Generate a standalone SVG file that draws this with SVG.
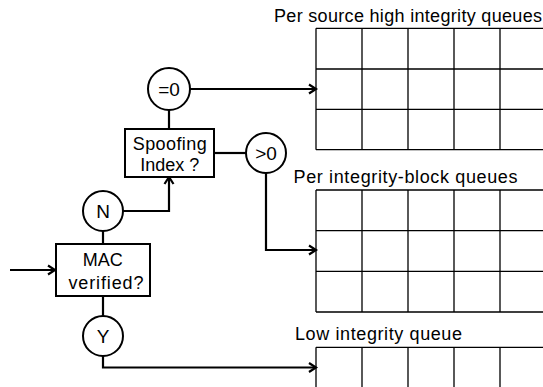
<svg xmlns="http://www.w3.org/2000/svg" width="543" height="387" viewBox="0 0 543 387">
<style>
.box{fill:#fff;stroke:#000;stroke-width:2}
.grid{fill:none;stroke:#000;stroke-width:1.3}
.con{fill:none;stroke:#000;stroke-width:2.2}
.t{font-family:"Liberation Sans",Arial,sans-serif;font-size:18px;fill:#000}
.c{font-size:19px}
.m{text-anchor:middle}
</style>
<defs>
<marker id="arr" markerUnits="userSpaceOnUse" markerWidth="12" markerHeight="12" refX="9" refY="6" orient="auto">
<path d="M2,1.5 L9,6 L2,10.5" fill="none" stroke="#000" stroke-width="2.2"/>
</marker>
</defs>
<rect width="543" height="387" fill="#fff"/>
<g id="connectors">
<path class="con" d="M10,270 H55" marker-end="url(#arr)"/>
<path class="con" d="M103,244 V231"/>
<path class="con" d="M103,296 V316"/>
<path class="con" d="M123,211 H169 V177" marker-end="url(#arr)"/>
<path class="con" d="M169,129 V110"/>
<path class="con" d="M190,89 H316" marker-end="url(#arr)"/>
<path class="con" d="M214,153 H246"/>
<path class="con" d="M266,173 V250 H316" marker-end="url(#arr)"/>
<path class="con" d="M103,356 V367.5 H316" marker-end="url(#arr)"/>
</g>
<g id="n-mac">
<rect class="box" x="56" y="244" width="94" height="52"/>
<text class="t m" x="102.7" y="266" textLength="40">MAC</text>
<text class="t m" x="106" y="288.5" textLength="75">verified?</text>
</g>
<g id="n-N">
<circle class="box" cx="103" cy="211" r="20"/>
<text class="t c m" x="103" y="218">N</text>
</g>
<g id="n-Y">
<circle class="box" cx="103" cy="336" r="20"/>
<text class="t c m" x="103" y="343">Y</text>
</g>
<g id="n-spoof">
<rect class="box" x="125" y="129" width="89" height="48"/>
<text class="t m" x="169.7" y="149.5" textLength="74">Spoofing</text>
<text class="t m" x="169.7" y="170.7" textLength="59">Index ?</text>
</g>
<g id="n-eq0">
<circle class="box" cx="169" cy="89" r="21"/>
<text class="t c m" x="169" y="96">=0</text>
</g>
<g id="n-gt0">
<circle class="box" cx="266" cy="153" r="20"/>
<text class="t c m" x="266" y="160">&gt;0</text>
</g>
<g id="q-source">
<text class="t" x="274" y="22" textLength="268">Per source high integrity queues</text>
<path class="grid" d="M316,28.3 H550 M316,69 H550 M316,109.3 H550 M316,149.7 H550 M316,28.3 V149.7 M362,28.3 V149.7 M408,28.3 V149.7 M454,28.3 V149.7 M500,28.3 V149.7"/>
</g>
<g id="q-block">
<text class="t" x="293.5" y="182.5" textLength="224">Per integrity-block queues</text>
<path class="grid" d="M316,190 H550 M316,230.7 H550 M316,271.3 H550 M316,312 H550 M316,190 V312 M362,190 V312 M408,190 V312 M454,190 V312 M500,190 V312"/>
</g>
<g id="q-low">
<text class="t" x="295" y="340" textLength="167">Low integrity queue</text>
<path class="grid" d="M316,347.3 H550 M316,347.3 V390 M362,347.3 V390 M408,347.3 V390 M454,347.3 V390 M500,347.3 V390"/>
</g>
</svg>
